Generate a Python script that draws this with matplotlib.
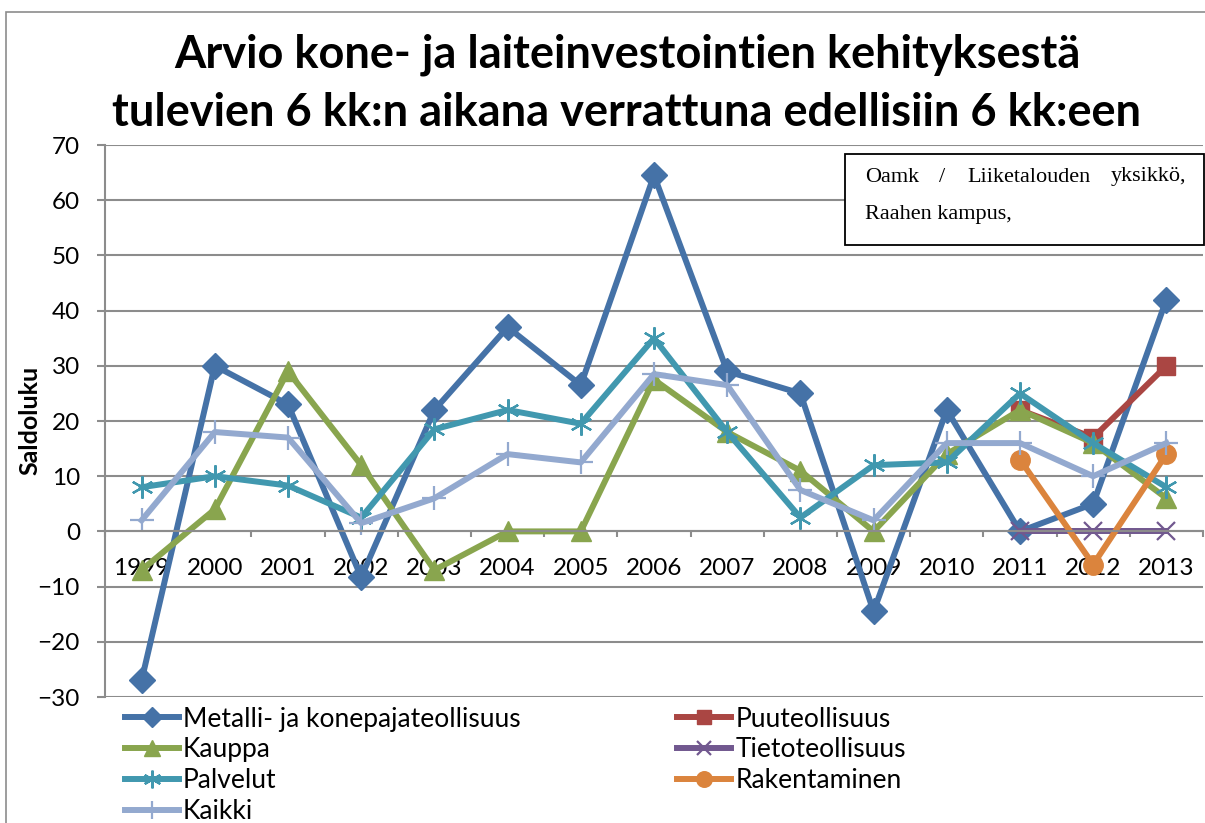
import numpy as np
import matplotlib
matplotlib.use("Agg")
import matplotlib.pyplot as plt
from matplotlib.patches import Rectangle

plt.rcParams['font.family'] = ['Lato', 'DejaVu Sans']

# Data
years = ['1999', '2000', '2001', '2002', '2003', '2004', '2005', '2006',
         '2007', '2008', '2009', '2010', '2011', '2012', '2013']
nan = np.nan
metalli = [-27, 30, 23, -8.3, 22, 37, 26.5, 64.5, 29, 25, -14.5, 22, 0, 5, 42]
puu = [nan] * 12 + [22, 17, 30]
kauppa = [-7, 4, 29, 12, -7, 0, 0, 27.5, 18, 11, 0, 14, 22, 16, 6]
tieto = [nan] * 12 + [0, 0, 0]
palvelut = [8, 10, 8.3, 2.5, 18.5, 22, 19.5, 35, 18, 2.5, 12, 12.5, 25, 16, 8]
rakentaminen = [nan] * 12 + [13, -6, 14]
kaikki = [2, 18, 17, 1.5, 6, 14, 12.5, 28.5, 26.5, 7.5, 2, 16, 16, 10, 16]

W, H = 1205, 823
fig = plt.figure(figsize=(W / 100, H / 100), dpi=100)
ax = fig.add_axes([105 / W, 1 - 697 / H, (1203 - 105) / W, (697 - 145) / H])

x = np.arange(len(years))
grid_c = '#8c8c8c'

series = [
    ('Metalli- ja konepajateollisuus', metalli, '#4572A7', 'D', 13, {}),
    ('Puuteollisuus', puu, '#AA4643', 's', 12.5, {}),
    ('Kauppa', kauppa, '#89A54E', '^', 15, {}),
    ('Tietoteollisuus', tieto, '#71588F', 'x', 13, {'markeredgewidth': 1.6}),
    ('Palvelut', palvelut, '#4198AF', (6, 2, 0), 16, {'markeredgewidth': 1.6}),
    ('Rakentaminen', rakentaminen, '#DB843D', 'o', 14, {}),
    ('Kaikki', kaikki, '#93A9CF', '+', 17, {'markeredgewidth': 1.6}),
]

handles = {}
for name, vals, col, mk, ms, kw in series:
    h, = ax.plot(x, vals, color=col, lw=4.3, marker=mk, ms=ms,
                 markerfacecolor=col, markeredgecolor=col, label=name, **kw)
    handles[name] = h

ax.set_xlim(-0.5, len(years) - 0.5)
ax.set_ylim(-30, 70)
ax.set_yticks(np.arange(-30, 71, 10))
ax.yaxis.grid(True, color=grid_c, lw=1.5)
ax.set_axisbelow(True)

for s in ['top', 'right']:
    ax.spines[s].set_visible(False)
ax.spines['left'].set_color(grid_c)
ax.spines['left'].set_linewidth(1.5)
ax.spines['bottom'].set_position(('data', 0))
ax.spines['bottom'].set_color(grid_c)
ax.spines['bottom'].set_linewidth(1.5)

ax.set_xticks(x)
ax.set_xticklabels(years, fontsize=17.5)
ax.set_xticks(np.arange(-0.5, len(years), 1), minor=True)
ax.tick_params(axis='x', which='major', length=0, pad=19)
ax.tick_params(axis='x', which='minor', length=4, width=1.5, color=grid_c, direction='out')
ax.tick_params(axis='y', length=6, width=1.5, color=grid_c, pad=12, labelsize=17.5)

fig.text(30 / W, 1 - 420 / H, 'Saldoluku', rotation=90, fontsize=18,
         fontweight='bold', ha='center', va='center')

fig.text(627 / W, 1 - 55 / H, 'Arvio kone- ja laiteinvestointien kehityksestä',
         fontsize=32.5, fontweight='bold', ha='center', va='center')
fig.text(627 / W, 1 - 113 / H, 'tulevien 6 kk:n aikana verrattuna edellisiin 6 kk:een',
         fontsize=32.5, fontweight='bold', ha='center', va='center')

# outer chart border
fig.patches.append(Rectangle((6 / W, -0.05), 1.1, 1 - 12 / H + 0.05,
                             transform=fig.transFigure, fill=False,
                             edgecolor='#8c8c8c', lw=1.2))

# source box
fig.patches.append(Rectangle((845 / W, 1 - 245 / H), (1204 - 845) / W, (245 - 154) / H,
                             transform=fig.transFigure, facecolor='white',
                             edgecolor='black', lw=1.3, zorder=5))
serif = ['Liberation Serif', 'DejaVu Serif']
for word, xp, ha in [('Oamk', 865, 'left'), ('/', 942, 'center'),
                     ('Liiketalouden', 967, 'left'), ('yksikkö,', 1186, 'right')]:
    fig.text(xp / W, 1 - 177 / H, word, family=serif, fontsize=16,
             ha=ha, va='center', zorder=6)
fig.text(865 / W, 1 - 215 / H, 'Raahen kampus,', family=serif, fontsize=16,
         ha='left', va='center', zorder=6)

order = ['Metalli- ja konepajateollisuus', 'Kauppa', 'Palvelut', 'Kaikki',
         'Puuteollisuus', 'Tietoteollisuus', 'Rakentaminen']
fig.legend([handles[n] for n in order], order, ncol=2, frameon=False,
           loc='upper left', bbox_to_anchor=(114 / W, 1 - 696 / H),
           fontsize=19, handlelength=2.05, handletextpad=0.15,
           columnspacing=5.95, labelspacing=0.22, borderaxespad=0,
           markerscale=0.8)

fig.savefig('out.png', dpi=100)
